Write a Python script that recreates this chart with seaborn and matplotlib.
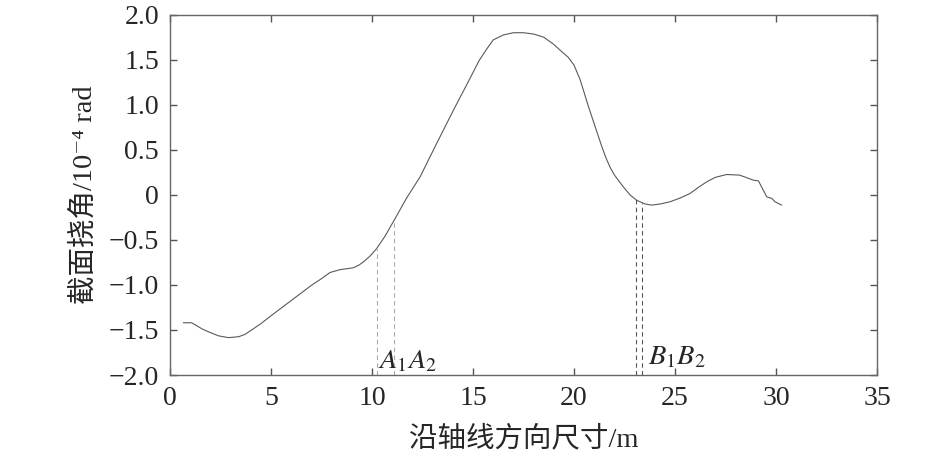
import numpy as np
import pandas as pd
import seaborn as sns
import matplotlib.pyplot as plt

# curve
pos = [0.66, 1.07, 1.3, 1.6, 1.9, 2.4, 2.89, 3.4, 3.7, 4.04, 4.5, 5.03, 6.02,
       7.01, 7.5, 7.92, 8.42, 9.07, 9.35, 9.57, 9.9, 10.23, 10.64, 11.1, 11.7,
       12.38, 13.2, 14.03, 14.85, 15.3, 15.68, 16.0, 16.5, 17.0, 17.5, 18.0,
       18.5, 19.0, 19.3, 19.7, 20.0, 20.3, 20.7, 21.1, 21.4, 21.6, 21.8, 22.0,
       22.4, 22.77, 23.1, 23.5, 23.85, 24.3, 24.75, 25.25, 25.74, 26.2, 26.57,
       27.0, 27.56, 28.2, 28.88, 29.13, 29.54, 29.79, 29.95, 30.28]
angle = [-1.42, -1.42, -1.45, -1.49, -1.52, -1.565, -1.585, -1.575, -1.55,
         -1.50, -1.43, -1.337, -1.17, -1.003, -0.93, -0.862, -0.83, -0.81,
         -0.78, -0.745, -0.68, -0.596, -0.46, -0.28, -0.04, 0.2, 0.571, 0.94,
         1.293, 1.49, 1.62, 1.72, 1.775, 1.80, 1.80, 1.785, 1.75, 1.67, 1.608,
         1.53, 1.44, 1.28, 0.99, 0.72, 0.52, 0.40, 0.30, 0.22, 0.10, 0.0,
         -0.06, -0.10, -0.114, -0.10, -0.077, -0.035, 0.015, 0.09, 0.145,
         0.195, 0.226, 0.219, 0.163, 0.155, -0.022, -0.04, -0.077, -0.114]

a_marks = [10.23, 11.1]
b_marks = [23.05, 23.38]

xticks = [0, 5, 10, 15, 20, 25, 30, 35]
yticks = [2.0, 1.5, 1.0, 0.5, 0, -0.5, -1.0, -1.5, -2.0]
ytick_labels = ['2.0', '1.5', '1.0', '0.5', '0', '\u22120.5', '\u22121.0',
                '\u22121.5', '\u22122.0']

df = pd.DataFrame({'x': pos, 'y': angle})

sns.set_style('ticks')
plt.rcParams['font.family'] = ['Liberation Serif', 'Noto Sans CJK SC', 'DejaVu Serif']
plt.rcParams['mathtext.fontset'] = 'stix'

fig = plt.figure(figsize=(9.45, 4.58), dpi=100)
ax = fig.add_axes([0.1799, 0.1812, 0.7482, 0.7867])

sns.lineplot(data=df, x='x', y='y', sort=False, estimator=None,
             color='#5a5a5a', linewidth=0.8, ax=ax)

ax.vlines(a_marks, -2, np.interp(a_marks, pos, angle), colors='#aaaaaa',
          linestyles=(0, (4, 3)), linewidth=0.8)
ax.vlines(b_marks, -2, np.interp(b_marks, pos, angle), colors='#555555',
          linestyles=(0, (4, 3)), linewidth=0.8)

ax.text(10.3, -1.93, r'$A_1A_2$', fontsize=20.5)
ax.text(23.65, -1.88, r'$B_1B_2$', fontsize=20.5)

ax.set_xlim(0, 35)
ax.set_ylim(-2, 2)
ax.set_xticks(xticks)
ax.set_xticklabels([str(t) for t in xticks])
ax.set_yticks(yticks)
ax.set_yticklabels(ytick_labels)
ax.tick_params(direction='in', top=True, right=True, length=5, width=1,
               color='#555555', labelsize=20, pad=8)
for s in ax.spines.values():
    s.set_color('#666666')
    s.set_linewidth(1)

ax.set_xlabel('沿轴线方向尺寸/m', fontsize=20.5, labelpad=10)
ax.set_ylabel('截面挠角/10\u207b\u2074 rad', fontsize=20.5, labelpad=8)

fig.savefig('out.png', dpi=100)
